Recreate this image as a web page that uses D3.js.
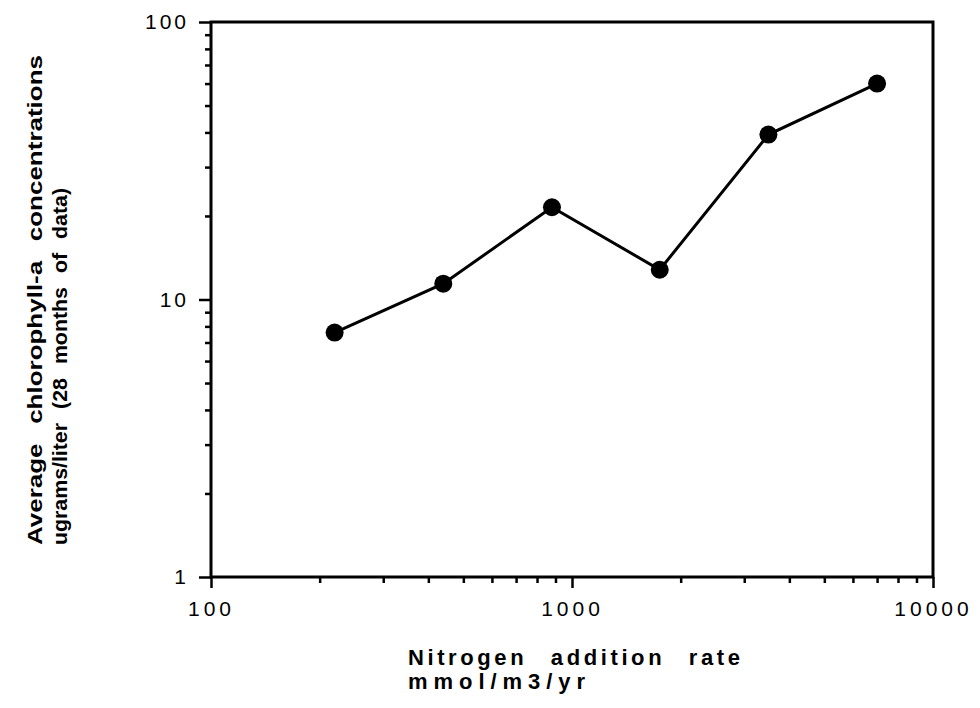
<!DOCTYPE html>
<html>
<head>
<meta charset="utf-8">
<script src="https://cdn.jsdelivr.net/npm/d3@7"></script>
<style>
  body { margin: 0; background: #fff; }
  svg { display: block; }
</style>
</head>
<body>
<div id="chart"></div>
<script>
// nitrogen addition rate (mmol/m3/yr) and average chlorophyll-a (ugrams/liter)
const nitrogen = [220, 440, 880, 1750, 3500, 7000];
const chlorophyll = [7.6, 11.4, 21.5, 12.8, 39.3, 60];
const xMajor = [100, 1000, 10000];
const yMajor = [1, 10, 100];
const xTitle = ["Nitrogen addition rate", "mmol/m3/yr"];
const yTitle = ["Average chlorophyll-a concentrations", "ugrams/liter (28 months of data)"];

const W = 980, H = 708;
const margin = { top: 22, right: 47, bottom: 131, left: 211 };
const width = W - margin.left - margin.right,
  height = H - margin.top - margin.bottom;

const svg = d3.select("#chart")
  .append("svg")
  .attr("width", W)
  .attr("height", H);

const g = svg.append("g")
  .attr("transform", `translate(${margin.left},${margin.top})`);

const x = d3.scaleLog().domain([100, 10000]).range([0, width]);
const y = d3.scaleLog().domain([1, 100]).range([height, 0]);

// minor ticks for every 1..9 per decade
const minors = (lo, hi) => {
  const out = [];
  for (let d = lo; d < hi; d *= 10) {
    for (let k = 2; k <= 9; k++) out.push(d * k);
  }
  return out;
};

const tickFont = "'Liberation Sans', Arial, sans-serif";

// bottom axis
g.append("g")
  .attr("transform", `translate(0,${height})`)
  .call(d3.axisBottom(x).tickValues(minors(100, 10000)).tickSize(6).tickFormat(""))
  .call(a => a.select(".domain").remove());
g.append("g")
  .attr("transform", `translate(0,${height})`)
  .call(d3.axisBottom(x).tickValues(xMajor).tickSize(11).tickPadding(13).tickFormat(d3.format("d")))
  .call(a => a.select(".domain").remove())
  .call(a => a.selectAll("text")
    .attr("font-family", tickFont)
    .attr("font-size", 21)
    .attr("letter-spacing", 4)
    .attr("fill", "#000"));

// left axis
g.append("g")
  .call(d3.axisLeft(y).tickValues(minors(1, 100)).tickSize(6).tickFormat(""))
  .call(a => a.select(".domain").remove());
g.append("g")
  .call(d3.axisLeft(y).tickValues(yMajor).tickSize(12).tickPadding(10).tickFormat(d3.format("d")))
  .call(a => a.select(".domain").remove())
  .call(a => a.selectAll("text")
    .attr("font-family", tickFont)
    .attr("font-size", 21)
    .attr("letter-spacing", 3)
    .attr("fill", "#000"));

g.selectAll(".tick line")
  .attr("stroke", "#000")
  .attr("stroke-width", 2.5);

// frame
g.append("rect")
  .attr("width", width)
  .attr("height", height)
  .attr("fill", "none")
  .attr("stroke", "#000")
  .attr("stroke-width", 3);

// series
const pts = nitrogen.map((n, i) => [n, chlorophyll[i]]);
g.append("path")
  .datum(pts)
  .attr("fill", "none")
  .attr("stroke", "#000")
  .attr("stroke-width", 3)
  .attr("d", d3.line().x(d => x(d[0])).y(d => y(d[1])));

g.selectAll("circle")
  .data(pts)
  .enter()
  .append("circle")
  .attr("cx", d => x(d[0]))
  .attr("cy", d => y(d[1]))
  .attr("r", 9)
  .attr("fill", "#000");

// axis titles
const titleFont = "'Liberation Sans', Arial, sans-serif";
const xTitleLen = [332, 177];
svg.append("g")
  .selectAll("text")
  .data(xTitle)
  .enter()
  .append("text")
  .attr("x", 408)
  .attr("y", (d, i) => 665 + i * 24)
  .attr("font-family", titleFont)
  .attr("font-weight", "bold")
  .attr("font-size", 22)
  .attr("word-spacing", (d, i) => i === 0 ? 14 : 0)
  .attr("textLength", (d, i) => xTitleLen[i])
  .attr("lengthAdjust", "spacing")
  .attr("fill", "#000")
  .text(d => d);

const yTitleLen = [490, 357];
svg.append("g")
  .selectAll("text")
  .data(yTitle)
  .enter()
  .append("text")
  .attr("transform", (d, i) => `translate(${42 + i * 25},545) rotate(-90)`)
  .attr("font-family", titleFont)
  .attr("font-weight", "bold")
  .attr("font-size", 21)
  .attr("word-spacing", (d, i) => i === 0 ? 10 : 8)
  .attr("textLength", (d, i) => yTitleLen[i])
  .attr("lengthAdjust", "spacingAndGlyphs")
  .attr("fill", "#000")
  .text(d => d);
</script>
</body>
</html>
